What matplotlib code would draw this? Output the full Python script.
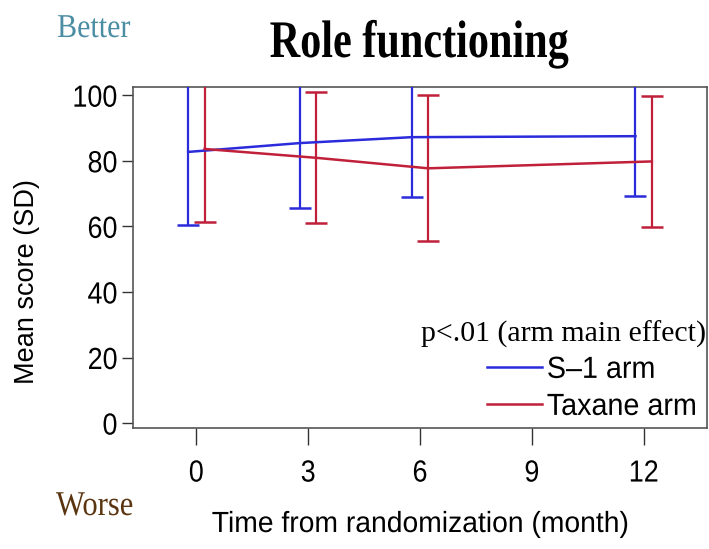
import matplotlib
matplotlib.use("Agg")
import matplotlib.pyplot as plt
from matplotlib.lines import Line2D
from matplotlib.patheffects import AbstractPathEffect
from matplotlib.transforms import Affine2D
import numpy as np

# Role functioning scores by arm and visit
months = [0, 3, 6, 9, 12]
visits = [0, 3, 6, 12]
s1_mean = [82.7, 85.4, 87.2, 87.5]
s1_sd = [22.3, 19.8, 18.4, 18.1]
tax_mean = [83.6, 80.9, 77.7, 79.8]
tax_sd = [22.2, 20.0, 22.3, 19.9]
y_ticks = [0, 20, 40, 60, 80, 100]
arm_labels = ["S\u20131 arm", "Taxane arm"]

blue = "#2b2bdc"
red = "#c0203a"
dodge = 0.22


class Squeeze(AbstractPathEffect):
    """Draw text horizontally condensed about a chosen anchor."""

    def __init__(self, sx, anchor="center"):
        super().__init__()
        self.sx = sx
        self.anchor = anchor

    def draw_path(self, renderer, gc, tpath, affine, rgbFace=None):
        ext = tpath.get_extents()
        if self.anchor == "right":
            cx = ext.x1
        elif self.anchor == "left":
            cx = ext.x0
        else:
            cx = 0.5 * (ext.x0 + ext.x1)
        t = Affine2D().translate(-cx, 0).scale(self.sx, 1).translate(cx, 0) + affine
        renderer.draw_path(gc, tpath, t, rgbFace)


W, H = 709, 549
fig = plt.figure(figsize=(W / 100, H / 100), dpi=100)
ax = fig.add_axes([133 / W, 1 - 428 / H, (707 - 133) / W, (428 - 87) / H])

x = np.array(visits, dtype=float)
ax.errorbar(x - dodge, s1_mean, yerr=s1_sd, color=blue, lw=1.8, elinewidth=1.6,
            capsize=7.8, capthick=1.8, zorder=3)
ax.errorbar(x + dodge, tax_mean, yerr=tax_sd, color=red, lw=1.8, elinewidth=1.6,
            capsize=7.8, capthick=1.8, zorder=3)

ax.set_xlim(-1.7, 13.7)
ax.set_ylim(-1.5, 102.5)
for s in ax.spines.values():
    s.set_color("#555555")
    s.set_linewidth(1.2)

tick_font = dict(family="Liberation Sans", size=22)
ax.set_yticks(y_ticks)
for t in ax.set_yticklabels([str(v) for v in y_ticks], fontdict=tick_font):
    t.set_path_effects([Squeeze(0.88, "right")])
ax.tick_params(axis="y", length=8, width=1.0, color="#333333", pad=3)

ax.set_xticks(months)
for t in ax.set_xticklabels([str(m) for m in months], fontdict=tick_font):
    t.set_path_effects([Squeeze(0.88, "center")])
ax.tick_params(axis="x", length=12, width=1.0, color="#333333", pad=10)

# Axis titles
fig.text(27 / W, 1 - 282 / H, "Mean score (SD)", rotation=90, ha="center",
         va="center", family="Liberation Sans", fontsize=19.5)
fig.text(420 / W, 1 - 524 / H, "Time from randomization (month)", ha="center",
         va="center", family="Liberation Sans", fontsize=21,
         path_effects=[Squeeze(0.97, "center")])

handles = [Line2D([], [], color=blue, lw=1.8), Line2D([], [], color=red, lw=1.8)]
leg = ax.legend(handles, arm_labels, loc="lower right", frameon=False,
                prop=dict(family="Liberation Sans", size=22),
                title="p<.01 (arm main effect)", handlelength=1.8,
                handletextpad=0.15, borderaxespad=0.0, labelspacing=0.23,
                bbox_to_anchor=(1.02, -0.018))
leg.get_title().set_fontfamily("Liberation Serif")
leg.get_title().set_fontsize(21.5)
leg._legend_box.align = "right"
for t in leg.get_texts():
    t.set_path_effects([Squeeze(0.94, "left")])

fig.text(419 / W, 1 - 57 / H, "Role functioning", ha="center", va="baseline",
         family="Liberation Serif", fontweight="bold", fontsize=38,
         path_effects=[Squeeze(0.8, "center")])
fig.text(57 / W, 1 - 37 / H, "Better", ha="left", va="baseline",
         family="Liberation Serif", fontsize=24, color="#4b8ea3",
         path_effects=[Squeeze(0.9, "left")])
fig.text(56 / W, 1 - 515 / H, "Worse", ha="left", va="baseline",
         family="Liberation Serif", fontsize=25, color="#5a3510",
         path_effects=[Squeeze(0.88, "left")])

fig.savefig("out.png", dpi=100)
